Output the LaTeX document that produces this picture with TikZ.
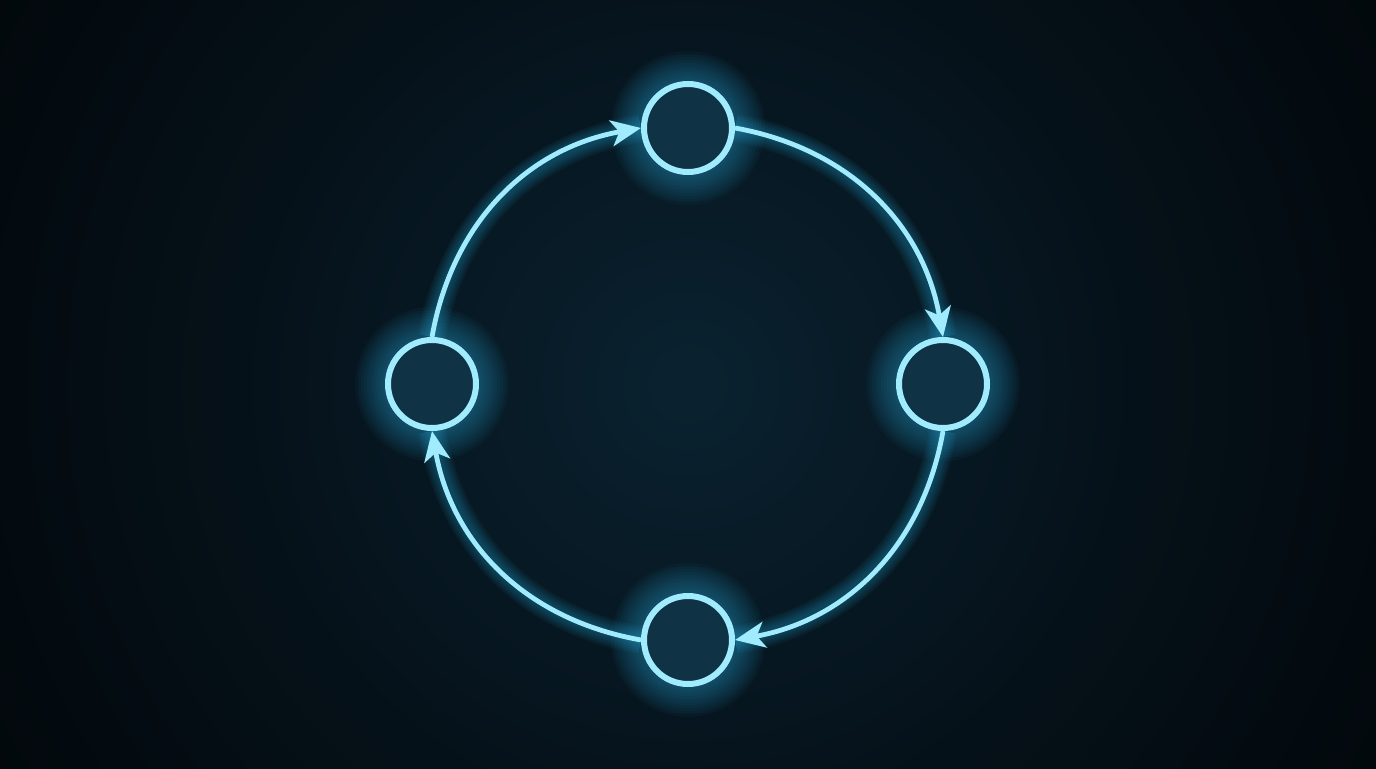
\documentclass[tikz,border=0pt]{standalone}
\usetikzlibrary{arrows.meta}
\definecolor{bgc}{RGB}{10,34,48}
\definecolor{bgm}{RGB}{5,17,25}
\definecolor{bge}{RGB}{1,4,6}
\definecolor{linec}{RGB}{160,236,254}
\definecolor{glowc}{RGB}{40,178,228}
\definecolor{nodein}{RGB}{15,50,68}
\definecolor{nodeout}{RGB}{40,112,140}
\pgfdeclareradialshading{bgshade}{\pgfpoint{0bp}{0bp}}{color(0bp)=(bgc); color(16bp)=(bgm); color(34bp)=(bge); color(50bp)=(bge)}
\pgfdeclareradialshading{nodeshade}{\pgfpoint{0bp}{0bp}}{color(0bp)=(nodein); color(24bp)=(nodein); color(50bp)=(nodeout)}
\pgfdeclarelayer{bg}
\pgfdeclarelayer{glow}
\pgfsetlayers{bg,glow,main}
\tikzset{
  cnode/.style={circle, minimum size=44pt, inner sep=0pt, draw=linec, line width=3pt, shade, shading=nodeshade},
  flow/.style={draw=linec, line width=2.4pt, -{Stealth[length=15pt,width=13pt,inset=4pt]}},
  nglow/.style={draw=glowc, line width=#1, opacity=0.045},
  aglow/.style={draw=glowc, line width=#1, opacity=0.06},
}
\begin{document}
\begin{tikzpicture}[x=0.5pt,y=0.5pt]
\useasboundingbox (0,0) rectangle (1376,768);
\begin{pgfonlayer}{bg}
\fill[bge] (0,0) rectangle (1376,768);
\begin{scope}
\clip (0,0) rectangle (1376,768);
\shade[shading=bgshade] (-12,-316) rectangle (1388,1084);
\end{scope}
\end{pgfonlayer}

\node[cnode] (T) at (688,640) {};
\node[cnode] (R) at (943,384) {};
\node[cnode] (B) at (688,128) {};
\node[cnode] (L) at (432,384) {};

\draw[flow] (L.north) to[bend left=35] (T.west);
\draw[flow] (T.east) to[bend left=35] (R.north);
\draw[flow] (R.south) to[bend left=35] (B.east);
\draw[flow] (B.west) to[bend left=35] (L.south);

\begin{pgfonlayer}{glow}
\foreach \n in {T,R,B,L}{
  \foreach \w in {4,7,10,13,16,19,22,25,28,31}{
    \draw[nglow=\w pt] (\n.center) circle[radius=46];
  }
}
\foreach \w in {4,6,8,10,12,14}{
  \draw[aglow=\w pt] (L.north) to[bend left=35] (T.west);
  \draw[aglow=\w pt] (T.east) to[bend left=35] (R.north);
  \draw[aglow=\w pt] (R.south) to[bend left=35] (B.east);
  \draw[aglow=\w pt] (B.west) to[bend left=35] (L.south);
}
\end{pgfonlayer}
\end{tikzpicture}
\end{document}
